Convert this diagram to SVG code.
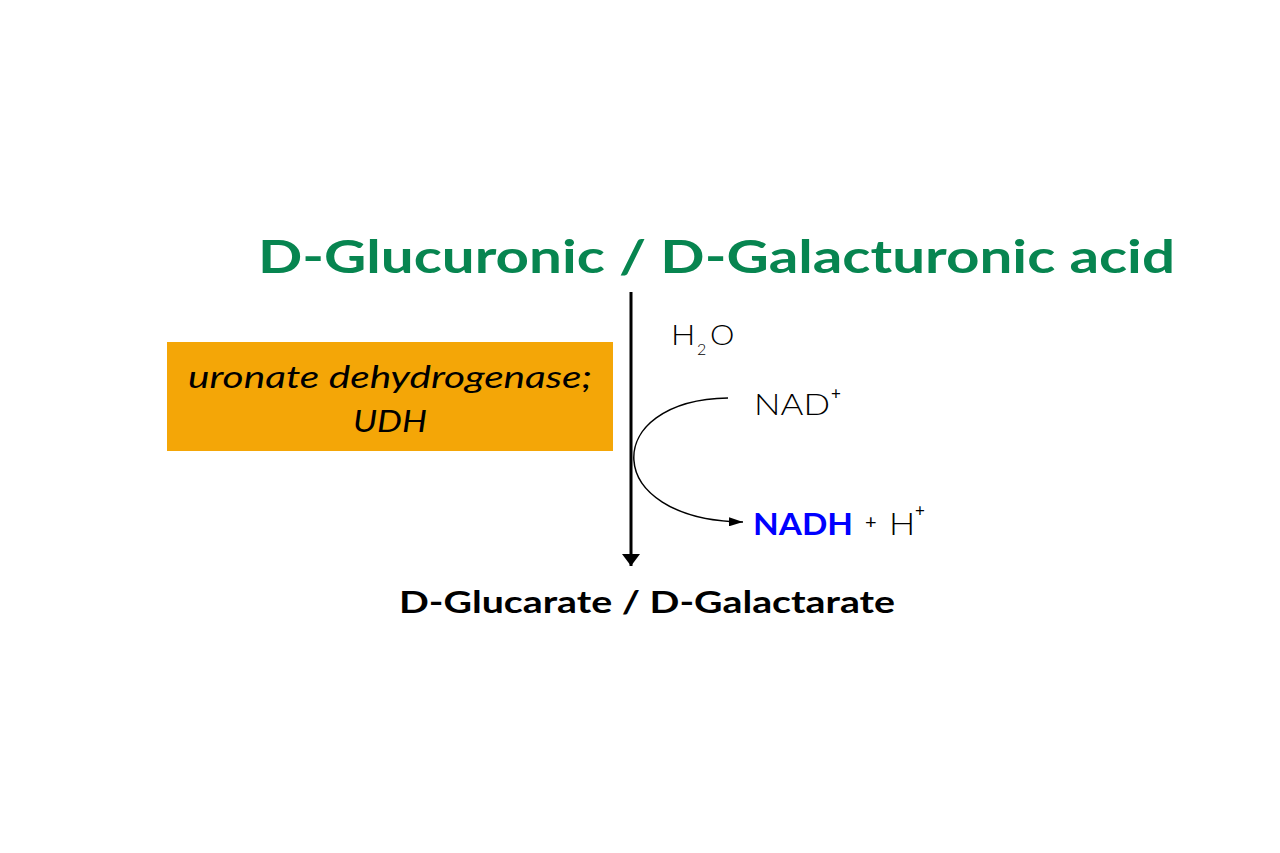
<svg xmlns="http://www.w3.org/2000/svg" width="1280" height="853" viewBox="0 0 1280 853">
<defs>
<style>
text{font-family:"Lato","Open Sans","Liberation Sans",sans-serif;}
.title{font-size:46px;font-weight:700;fill:#078550;}
.prod{font-size:30px;font-weight:700;fill:#000;}
.enz{font-size:30px;font-style:italic;fill:#000;}
.light{font-weight:300;fill:#000;}
.sup{font-weight:400;fill:#000;font-size:17px;}
.conn{fill:none;stroke:#000;}
</style>
<marker id="bigHead" viewBox="0 0 12 18" refX="12" refY="9" markerWidth="12" markerHeight="18" markerUnits="userSpaceOnUse" orient="auto">
<path d="M0,0 L12,9 L0,18 Z" fill="#000"/>
</marker>
<marker id="smallHead" viewBox="0 0 14 9" refX="14" refY="4.5" markerWidth="14" markerHeight="9" markerUnits="userSpaceOnUse" orient="auto">
<path d="M0,0 L14,4.5 L0,9 Z" fill="#000"/>
</marker>
</defs>
<rect width="1280" height="853" fill="#fff"/>
<g id="substrate">
<text class="title" x="258" y="273" textLength="917" lengthAdjust="spacingAndGlyphs">D-Glucuronic / D-Galacturonic acid</text>
</g>
<g id="enzyme">
<rect x="167" y="342" width="446" height="109" fill="#F4A607"/>
<text class="enz" x="390" y="388" text-anchor="middle" textLength="404" lengthAdjust="spacingAndGlyphs">uronate dehydrogenase;</text>
<text class="enz" x="390" y="432" text-anchor="middle" textLength="74" lengthAdjust="spacingAndGlyphs">UDH</text>
</g>
<g id="water">
<text class="light" font-size="28" transform="translate(671,345) scale(1.15,1)">H</text>
<text class="light" x="697" y="355" font-size="16">2</text>
<text class="light" font-size="28" transform="translate(710,345) scale(1.1,1)">O</text>
</g>
<g id="nad">
<text class="light" x="754" y="415" font-size="29" textLength="76" lengthAdjust="spacingAndGlyphs">NAD</text>
<text class="sup" x="831" y="400">+</text>
</g>
<g id="nadh">
<text x="753" y="535" font-size="31" font-weight="700" fill="#0000FF" textLength="100" lengthAdjust="spacingAndGlyphs">NADH</text>
<text x="865" y="529" font-size="20" font-weight="400" fill="#000">+</text>
<text class="light" font-size="31" transform="translate(889,535) scale(1.12,1)">H</text>
<text class="sup" x="915" y="517">+</text>
</g>
<g id="product">
<text class="prod" x="399" y="613" textLength="496" lengthAdjust="spacingAndGlyphs">D-Glucarate / D-Galactarate</text>
</g>
<g id="connectors">
<line class="conn" x1="631" y1="292" x2="631" y2="566" stroke-width="3" marker-end="url(#bigHead)"/>
<path class="conn" d="M728,398 C600,400 600,520 743,522" stroke-width="1.5" marker-end="url(#smallHead)"/>
</g>
</svg>
